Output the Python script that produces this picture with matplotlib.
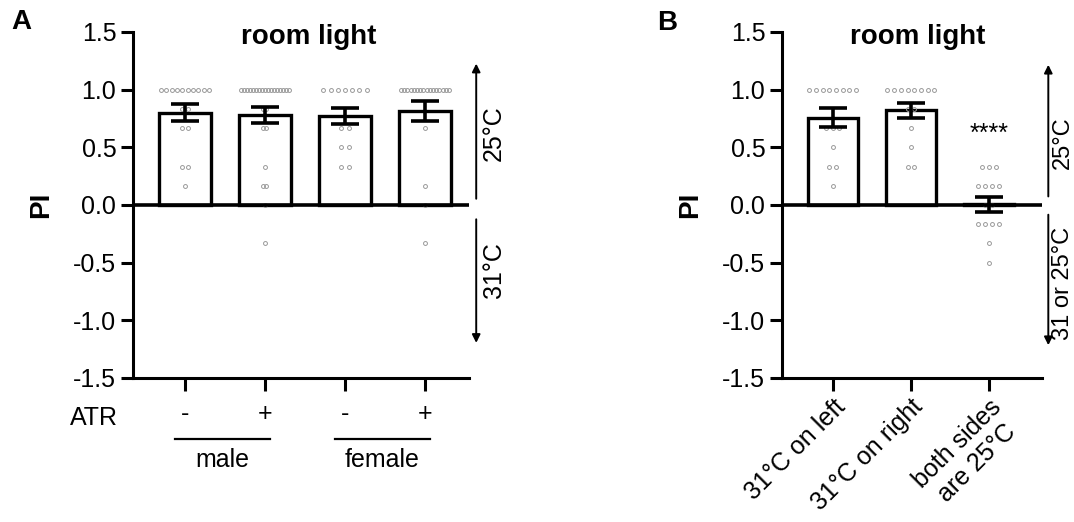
import numpy as np
import matplotlib
matplotlib.use('Agg')
import matplotlib.pyplot as plt

plt.rcParams['font.family'] = ['Liberation Sans', 'DejaVu Sans']

# PI levels that the single-fly points sit on
levels = [1.0, 0.833, 0.667, 0.5, 0.333, 0.167, 0.0, -0.167, -0.333, -0.5]

# Panel A: ATR - / + for male and female
atr_labels = ['-', '+', '-', '+']
sex_labels = ['male', 'female']
counts_a = [
    [10, 2, 2, 0, 2, 1, 0, 0, 0, 0],
    [17, 2, 2, 0, 1, 2, 1, 0, 1, 0],
    [7, 0, 2, 2, 2, 0, 0, 0, 0, 0],
    [16, 0, 1, 0, 0, 1, 1, 0, 1, 0],
]
mean_a = [0.80, 0.78, 0.77, 0.815]
sem_a = [0.073, 0.072, 0.072, 0.09]

# Panel B: side of the 31 C half
cond_labels = ['31°C on left', '31°C on right', 'both sides\nare 25°C']
counts_b = [
    [8, 0, 3, 1, 2, 1, 0, 0, 0, 0],
    [8, 2, 1, 1, 2, 0, 0, 0, 0, 0],
    [0, 0, 0, 0, 3, 4, 2, 4, 1, 1],
]
mean_b = [0.755, 0.82, 0.005]
sem_b = [0.082, 0.065, 0.068]

FS = 18


def draw_panel(ax, counts, means, sems, xlim):
    n = len(means)
    x = np.arange(n)
    ax.bar(x, means, width=0.64, color='white', edgecolor='black',
           linewidth=2.4, zorder=2)
    for i, row in enumerate(counts):
        step = min(0.09, 0.6 / (max(row) - 1))
        for lev, c in zip(levels, row):
            if c == 0:
                continue
            xs = i + (np.arange(c) - (c - 1) / 2) * step
            ax.plot(xs, [lev] * c, 'o', ms=2.8, mfc='none', mec='#999999',
                    mew=0.7, zorder=3, clip_on=False)
    ax.errorbar(x, means, yerr=sems, fmt='none', ecolor='black',
                elinewidth=2.6, capsize=10, capthick=2.6, zorder=4)
    ax.axhline(0, color='black', lw=2.6, zorder=5)
    ax.set_xlim(xlim)
    ax.set_ylim(-1.5, 1.5)
    ax.set_yticks([1.5, 1.0, 0.5, 0.0, -0.5, -1.0, -1.5])
    ax.set_yticklabels(['1.5', '1.0', '0.5', '0.0', '-0.5', '-1.0', '-1.5'])
    ax.set_xticks(x)
    for s in ['top', 'right']:
        ax.spines[s].set_visible(False)
    for s in ['left', 'bottom']:
        ax.spines[s].set_linewidth(2.2)
    ax.tick_params(width=2.2, length=9, labelsize=FS, pad=3)
    ax.set_ylabel('PI', fontsize=20, fontweight='bold', labelpad=14)
    ax.text(0.523, 0.985, 'room light', transform=ax.transAxes, ha='center',
            va='center', fontsize=20, fontweight='bold')


fig = plt.figure(figsize=(10.74, 5.22), dpi=100)
axA = fig.add_axes([0.1238, 0.2759, 0.3129, 0.6628])
axB = fig.add_axes([0.7281, 0.2759, 0.2418, 0.6628])

# Panel A
draw_panel(axA, counts_a, mean_a, sem_a, (-0.65, 3.55))
axA.set_xticklabels(atr_labels)
axA.tick_params(axis='x', pad=8)
tr = axA.get_xaxis_transform()
axA.text(-1.14, -0.116, 'ATR', transform=tr, ha='center', va='center',
         fontsize=FS)
for k, lab in enumerate(sex_labels):
    x0 = 2 * k - 0.125
    x1 = 2 * k + 1.06
    axA.plot([x0, x1], [-0.176, -0.176], color='black', lw=1.6,
             transform=tr, clip_on=False)
    axA.text((x0 + x1) / 2, -0.237, lab, transform=tr, ha='center',
             va='center', fontsize=FS)
arr = dict(arrowstyle='-|>', color='black', lw=1.4, mutation_scale=12)
axA.annotate('', xy=(3.64, 1.25), xytext=(3.64, 0.03), arrowprops=arr,
             annotation_clip=False)
axA.annotate('', xy=(3.64, -1.22), xytext=(3.64, -0.1), arrowprops=arr,
             annotation_clip=False)
axA.text(3.86, 0.62, '25°C', rotation=90, ha='center', va='center',
         fontsize=FS)
axA.text(3.86, -0.56, '31°C', rotation=90, ha='center', va='center',
         fontsize=FS)

# Panel B
draw_panel(axB, counts_b, mean_b, sem_b, (-0.65, 2.675))
axB.set_xticklabels(cond_labels, rotation=45, ha='right',
                    rotation_mode='anchor', multialignment='center')
axB.text(2, 0.62, '****', ha='center', va='center', fontsize=FS)
axB.annotate('', xy=(2.76, 1.24), xytext=(2.76, 0.05), arrowprops=arr,
             annotation_clip=False)
axB.annotate('', xy=(2.76, -1.24), xytext=(2.76, -0.06), arrowprops=arr,
             annotation_clip=False)
axB.text(2.945, 0.54, '25°C', rotation=90, ha='center', va='center',
         fontsize=17)
axB.text(2.945, -0.68, '31 or 25°C', rotation=90, ha='center', va='center',
         fontsize=17)

fig.text(21 / 1074, 1 - 22 / 522, 'A', fontsize=20, fontweight='bold',
         ha='center', va='center')
fig.text(667 / 1074, 1 - 23 / 522, 'B', fontsize=20, fontweight='bold',
         ha='center', va='center')

fig.savefig('out.png', dpi=100)
